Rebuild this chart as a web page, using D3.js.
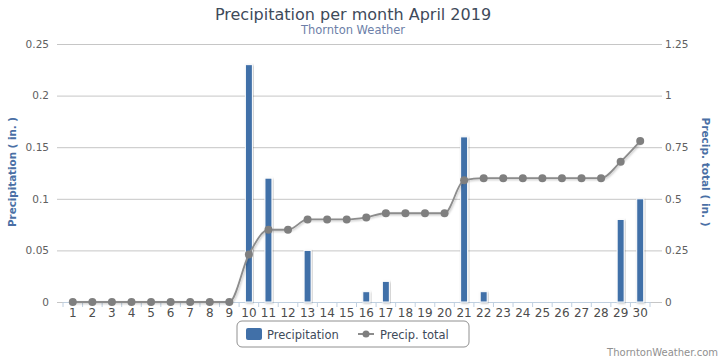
<!DOCTYPE html>
<html>
<head>
<meta charset="utf-8">
<script src="https://cdn.jsdelivr.net/npm/d3@7"></script>
<style>
  body { margin: 0; background: #fff; }
  svg { font-family: "DejaVu Sans", Verdana, sans-serif; }
</style>
</head>
<body>
<div id="chart"></div>
<script>
const days = d3.range(1, 31).map(String);
const precip = [0, 0, 0, 0, 0, 0, 0, 0, 0, 0.23, 0.12, 0, 0.05, 0, 0, 0.01, 0.02, 0, 0, 0,
  0.16, 0.01, 0, 0, 0, 0, 0, 0, 0.08, 0.10];
const total = [0, 0, 0, 0, 0, 0, 0, 0, 0, 0.23, 0.35, 0.35, 0.40, 0.40, 0.40, 0.41, 0.43, 0.43, 0.43, 0.43,
  0.59, 0.60, 0.60, 0.60, 0.60, 0.60, 0.60, 0.60, 0.68, 0.78];
const leftTicks = [0, 0.05, 0.1, 0.15, 0.2, 0.25];
const rightTicks = [0, 0.25, 0.5, 0.75, 1, 1.25];

const W = 722, H = 361;
const margin = { top: 44, right: 72, bottom: 59, left: 63 };
const width = W - margin.left - margin.right;
const height = H - margin.top - margin.bottom;

const svg = d3.select('#chart').append('svg').attr('width', W).attr('height', H);

const defs = svg.append('defs');
const shadow = defs.append('filter').attr('id', 'shadow').attr('x', '-20%').attr('y', '-20%')
  .attr('width', '140%').attr('height', '140%');
shadow.append('feDropShadow').attr('dx', 1).attr('dy', 1).attr('stdDeviation', 1)
  .attr('flood-color', '#000').attr('flood-opacity', 0.25);

svg.append('text').attr('x', 353).attr('y', 20).attr('text-anchor', 'middle')
  .attr('font-size', 16).attr('fill', '#3e4a5a').text('Precipitation per month April 2019');
svg.append('text').attr('x', 353).attr('y', 34).attr('text-anchor', 'middle')
  .attr('font-size', 11.5).attr('fill', '#6d7fa8').text('Thornton Weather');

const g = svg.append('g').attr('transform', `translate(${margin.left},${margin.top})`);

const x = d3.scaleBand().domain(days).range([0, width]);
const y = d3.scaleLinear().domain([0, 0.25]).range([height, 0]);
const y2 = d3.scaleLinear().domain([0, 1.25]).range([height, 0]);

// grid lines
g.append('g')
  .call(d3.axisLeft(y).tickValues(leftTicks).tickSize(-width).tickFormat(''))
  .call(a => a.select('.domain').remove())
  .call(a => a.selectAll('line').attr('stroke', '#c6c6c6'));

// left axis
g.append('g')
  .call(d3.axisLeft(y).tickValues(leftTicks).tickSize(6).tickPadding(8).tickFormat(d => String(d)))
  .call(a => a.select('.domain').remove())
  .call(a => a.selectAll('line').attr('stroke', '#c6c6c6'))
  .call(a => a.selectAll('text').attr('fill', '#606060').attr('font-size', 10.5)
    .attr('font-family', '"DejaVu Sans", Verdana, sans-serif'));

// right axis
g.append('g').attr('transform', `translate(${width},0)`)
  .call(d3.axisRight(y2).tickValues(rightTicks).tickSize(12).tickPadding(3).tickFormat(d => String(d)))
  .call(a => a.select('.domain').remove())
  .call(a => a.selectAll('line').attr('stroke', '#c6c6c6'))
  .call(a => a.selectAll('text').attr('fill', '#606060').attr('font-size', 10.5)
    .attr('font-family', '"DejaVu Sans", Verdana, sans-serif'));

// axis titles
svg.append('text').attr('transform', `translate(16,${margin.top + height / 2 - 1}) rotate(-90)`)
  .attr('text-anchor', 'middle').attr('font-size', 10).attr('font-weight', 'bold')
  .attr('fill', '#4a6fa5').attr('textLength', 110).attr('lengthAdjust', 'spacingAndGlyphs')
  .text('Precipitation ( in. )');
svg.append('text').attr('transform', `translate(702,${margin.top + height / 2 - 1}) rotate(90)`)
  .attr('text-anchor', 'middle').attr('font-size', 10).attr('font-weight', 'bold')
  .attr('fill', '#4a6fa5').attr('textLength', 109).attr('lengthAdjust', 'spacingAndGlyphs')
  .text('Precip. total ( in. )');

// x axis
const xAxis = g.append('g').attr('transform', `translate(0,${height})`)
  .call(d3.axisBottom(x).tickSize(0).tickPadding(6))
  .call(a => a.select('.domain').attr('stroke', '#c0d0e0'))
  .call(a => a.selectAll('text').attr('fill', '#4d4d4d').attr('font-size', 12)
    .attr('font-family', '"DejaVu Sans", Verdana, sans-serif'));
xAxis.selectAll('.sep').data(days).join('line').attr('class', 'sep')
  .attr('x1', d => x(d)).attr('x2', d => x(d)).attr('y1', 0).attr('y2', 5)
  .attr('stroke', '#c0d0e0');
xAxis.append('line').attr('x1', width).attr('x2', width).attr('y1', 0).attr('y2', 5)
  .attr('stroke', '#c0d0e0');

// bars
const barW = 7;
g.append('g').selectAll('rect').data(precip.map((v, i) => ({ day: days[i], v })).filter(d => d.v > 0))
  .join('rect')
  .attr('x', d => x(d.day) + x.bandwidth() / 2 - barW / 2)
  .attr('y', d => y(d.v))
  .attr('width', barW)
  .attr('height', d => height - y(d.v))
  .attr('fill', '#4170a8')
  .attr('stroke', '#fff')
  .attr('stroke-width', 1)
  .attr('filter', 'url(#shadow)');

// cumulative line
const pts = total.map((v, i) => ({ day: days[i], v }));
const line = d3.line()
  .x(d => x(d.day) + x.bandwidth() / 2)
  .y(d => y2(d.v))
  .curve(d3.curveMonotoneX);
g.append('path').datum(pts).attr('d', line).attr('fill', 'none')
  .attr('stroke', '#8c8c8c').attr('stroke-width', 1.8).attr('filter', 'url(#shadow)');
g.append('g').selectAll('circle').data(pts).join('circle')
  .attr('cx', d => x(d.day) + x.bandwidth() / 2)
  .attr('cy', d => y2(d.v))
  .attr('r', 4)
  .attr('fill', '#7f7f7f');

// legend
const lg = svg.append('g').attr('transform', 'translate(237,321)');
lg.append('rect').attr('width', 232).attr('height', 26).attr('rx', 5)
  .attr('fill', '#fff').attr('stroke', '#909090');
lg.append('rect').attr('x', 9).attr('y', 7).attr('width', 16).attr('height', 12).attr('rx', 2)
  .attr('fill', '#4170a8');
lg.append('text').attr('x', 30).attr('y', 17.5).attr('font-size', 11.5).attr('fill', '#3e4a5a')
  .text('Precipitation');
lg.append('line').attr('x1', 121).attr('x2', 137).attr('y1', 13).attr('y2', 13)
  .attr('stroke', '#8c8c8c').attr('stroke-width', 2);
lg.append('circle').attr('cx', 129).attr('cy', 13).attr('r', 3.5).attr('fill', '#7f7f7f');
lg.append('text').attr('x', 143).attr('y', 17.5).attr('font-size', 11.5).attr('fill', '#3e4a5a')
  .text('Precip. total');

// credit
svg.append('text').attr('x', 718).attr('y', 356).attr('text-anchor', 'end')
  .attr('font-size', 10).attr('fill', '#909090').text('ThorntonWeather.com');
</script>
</body>
</html>
